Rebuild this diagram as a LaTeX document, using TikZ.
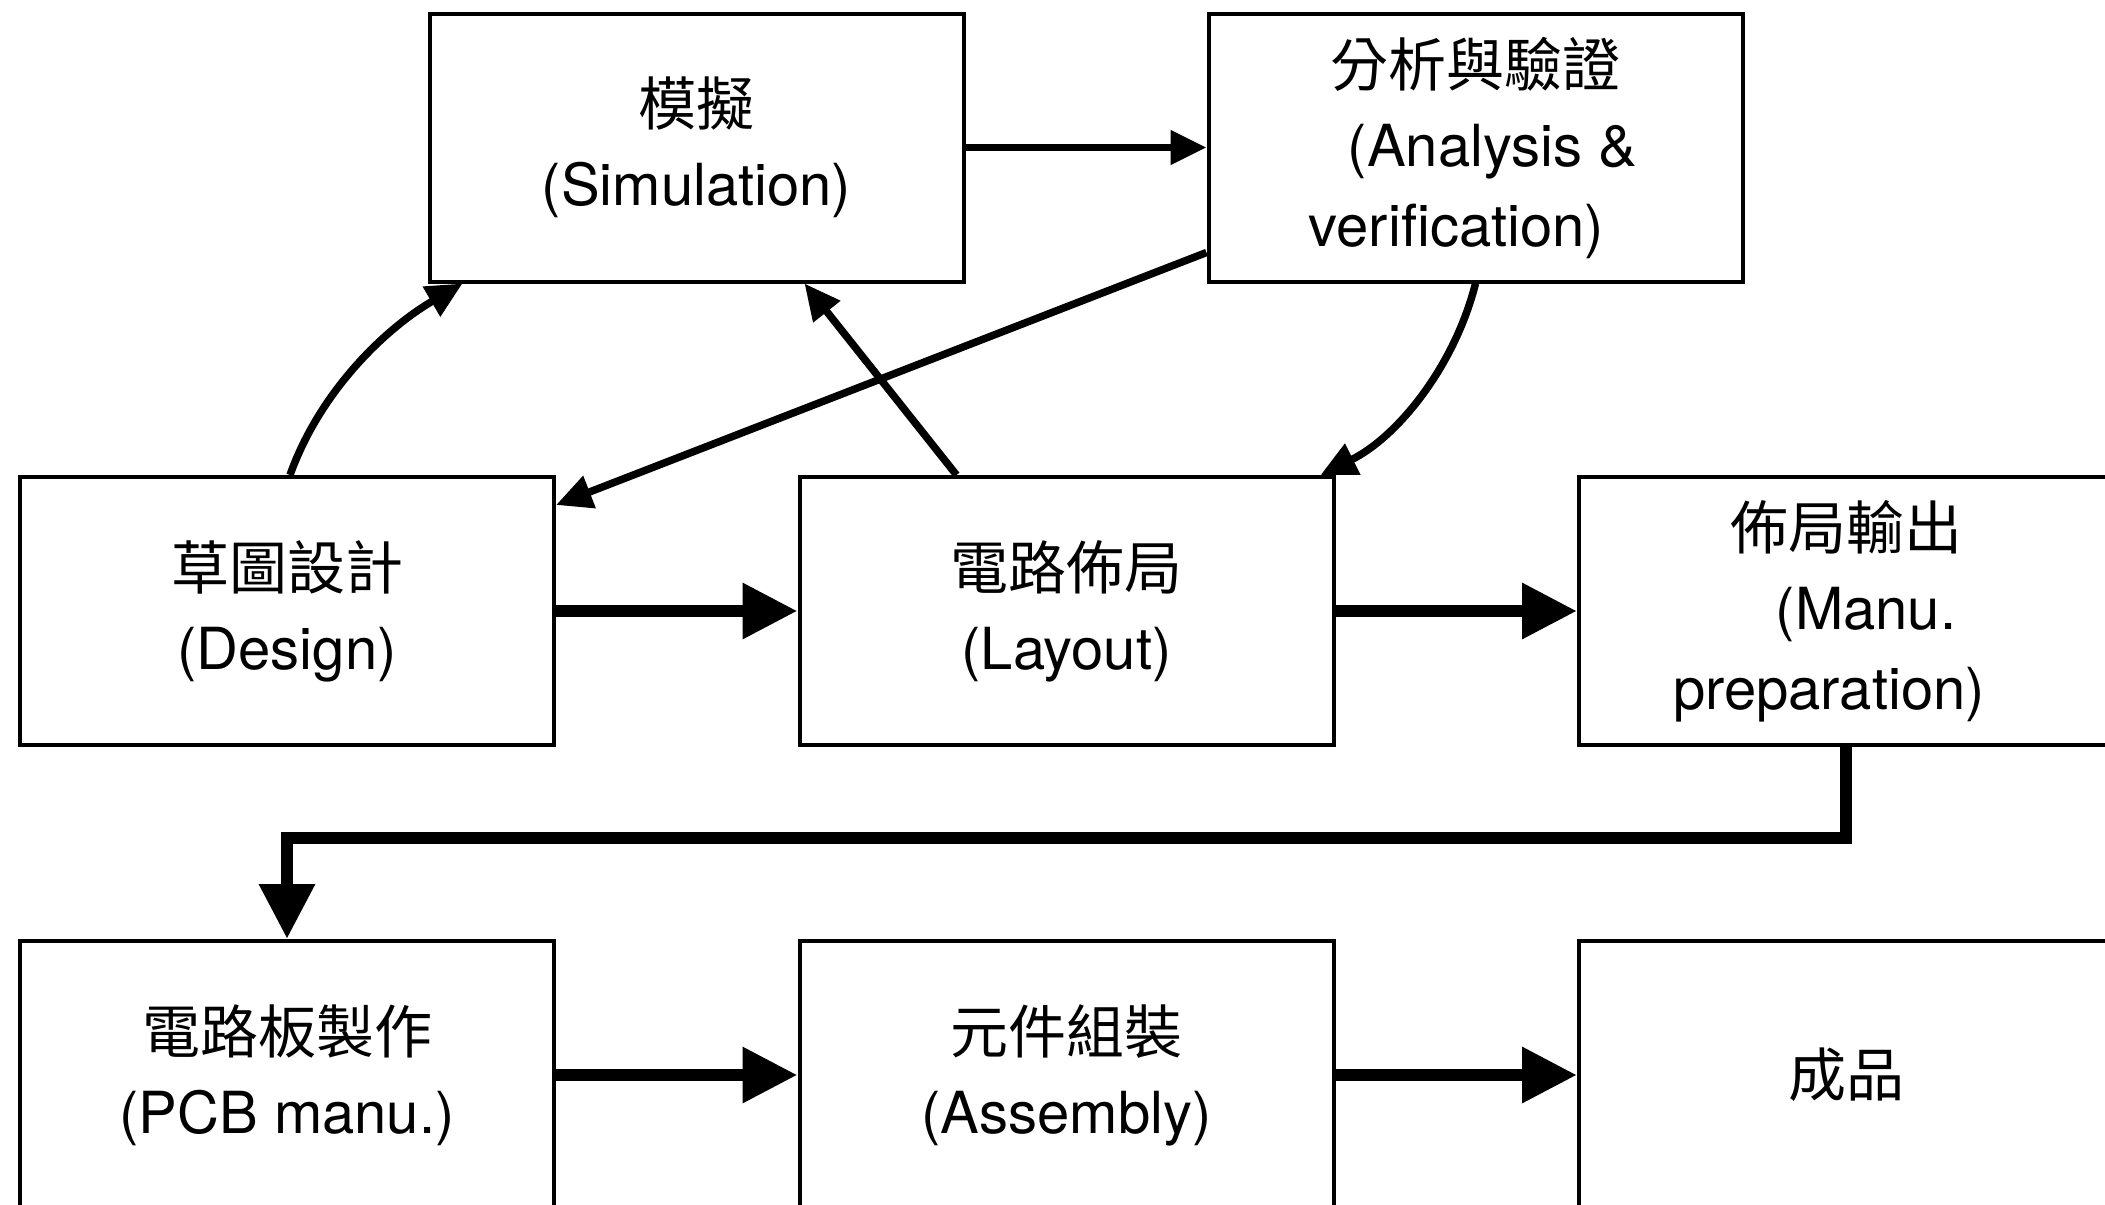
\documentclass[tikz,border=0pt]{standalone}
\usepackage{fontspec}
\setmainfont{TeX Gyre Heros}
\newfontfamily\cjk{Noto Sans CJK TC}
\usetikzlibrary{arrows.meta,calc}
\tikzset{
  box/.style={draw, line width=2pt, minimum width=267pt, minimum height=134pt,
    inner sep=0pt, align=center, font=\fontsize{29}{40}\selectfont},
  thinarr/.style={line width=3.75pt, -{Triangle[length=18pt,width=16.5pt]}},
  thickarr/.style={line width=6.25pt, -{Triangle[length=27.5pt,width=26.5pt]}},
}
\begin{document}
\begin{tikzpicture}[x=0.5pt,y=-0.5pt]
\useasboundingbox (0,0) rectangle (2105,1205);
\fill[white] (0,0) rectangle (2105,1205);
\clip (0,0) rectangle (2105,1205);
% boxes
\node[box] (sim) at (696.5,147.5) {{\cjk 模擬}\\(Simulation)};
\node[box] (ana) at (1475.5,147.5) {{\cjk 分析與驗證}\\\hspace*{17pt}(Analysis \&\\verification)\hspace*{19pt}};
\node[box] (des) at (287,611) {{\cjk 草圖設計}\\(Design)};
\node[box] (lay) at (1066.5,611) {{\cjk 電路佈局}\\(Layout)};
\node[box] (man) at (1846,611) {{\cjk 佈局輸出}\\\hspace*{20pt}(Manu.\\preparation)\hspace*{17pt}};
\node[box] (pcb) at (287,1075) {{\cjk 電路板製作}\\(PCB manu.)};
\node[box] (asm) at (1066.5,1075) {{\cjk 元件組裝}\\(Assembly)};
\node[box] (fin) at (1846,1075) {{\cjk 成品}};
% thin arrows
\draw[thinarr] (sim.east) -- (ana.west);
\draw[thinarr] ($(ana.south west)+(0,-31)$) -- ($(des.north east)+(0,30)$);
\draw[thinarr] ($(lay.north west)+(159,0)$) -- ($(sim.south west)+(377,0)$);
\draw[thinarr] ($(des.north)+(3,0)$) .. controls +(30,-84) and +(-77,45) .. ($(sim.south west)+(35,0)$);
\draw[thinarr] (ana.south) .. controls +(-21,83) and +(77,-38) .. ($(lay.north east)+(-15,0)$);
% thick arrows
\draw[thickarr] (des.east) -- (lay.west);
\draw[thickarr] (lay.east) -- (man.west);
\draw[thickarr] (pcb.east) -- (asm.west);
\draw[thickarr] (asm.east) -- (fin.west);
\coordinate (elb) at (0,838);
\draw[thickarr] (man.south) -- (man.south |- elb) -| (pcb.north);
\end{tikzpicture}
\end{document}
